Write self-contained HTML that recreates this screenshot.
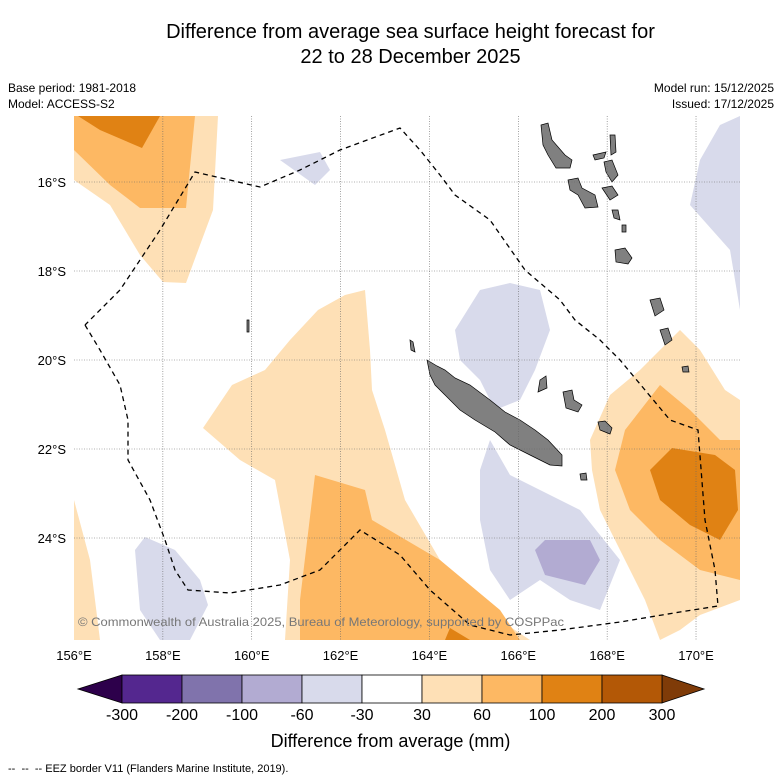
<!DOCTYPE html>
<html><head><meta charset="utf-8"><style>
body{margin:0;background:#fff;font-family:"Liberation Sans",sans-serif}
#wrap{position:relative;width:781px;height:781px;overflow:hidden}
.t{position:absolute;white-space:nowrap}
</style></head><body>
<div id="wrap">
<div class="t" style="left:0;width:821px;top:20px;text-align:center;font-size:20px;line-height:25px">Difference from average sea surface height forecast for<br>22 to 28 December 2025</div>
<div class="t" style="left:8px;top:80px;font-size:12px;line-height:16px">Base period: 1981-2018<br>Model: ACCESS-S2</div>
<div class="t" style="right:7px;top:80px;font-size:12px;line-height:16px;text-align:right">Model run: 15/12/2025<br>Issued: 17/12/2025</div>
<svg id="svg" width="781" height="781" style="position:absolute;left:0;top:0"></svg>
<div class="t" style="left:0;width:781px;top:731px;text-align:center;font-size:18px">Difference from average (mm)</div>
<div class="t" style="left:8px;top:763px;font-size:11px">--&nbsp; --&nbsp; -- EEZ border V11 (Flanders Marine Institute, 2019).</div>
</div>
<script>
const levels=[-300,-200,-100,-60,-30,30,60,100,200,300];
const colors=['#54278f','#8073ac','#b2abd2','#d8daeb','#ffffff','#fee0b6','#fdb863','#e08214','#b35806'];
const extColors=['#2d004b','#7f3b08'];
const lonTicks=[156,158,160,162,164,166,168,170];
const latTicks=[16,18,20,22,24];
const NS='http://www.w3.org/2000/svg';
const svg=document.getElementById('svg');
function el(t,a,p){const e=document.createElementNS(NS,t);for(const k in a)e.setAttribute(k,a[k]);(p||svg).appendChild(e);return e;}
const X=lon=>74+(lon-156)*44.43, Y=lat=>182+(lat-16)*44.5;
const g=el('g',{'clip-path':'url(#mc)'});
const cp=el('clipPath',{id:'mc'});el('rect',{x:74,y:116,width:666,height:524},cp);
function poly(pts,fill,name,stroke){const p=el('polygon',{points:pts,fill:fill,stroke:stroke||'none','stroke-width':stroke?0.6:0},g);

}
const C=colors;
poly('74,116 218,116 213,210 200,245 186,283 163,282 140,255 110,205 74,180',C[5],'anomaly-light-orange-nw');
poly('74,116 195,116 186,208 140,208 110,185 74,150',C[6],'anomaly-orange-nw');
poly('78,116 160,116 142,148 100,130',C[7],'anomaly-dark-orange-nw');
poly('203,428 232,385 265,370 290,340 318,310 345,295 365,290 370,350 372,390 385,430 405,500 440,560 500,620 530,640 285,640 290,560 275,480 240,460',C[5],'anomaly-light-orange-center');
poly('315,475 365,490 372,520 440,560 500,610 520,640 300,640 300,600',C[6],'anomaly-orange-center');
poly('445,640 450,628 470,640',C[7],'anomaly-dark-orange-center');
poly('592,470 590,440 610,395 640,370 680,330 700,350 725,390 740,400 740,600 700,615 680,630 660,640 645,600 620,550 600,510',C[5],'anomaly-light-orange-east');
poly('615,470 625,430 660,385 690,410 720,440 740,440 740,580 700,570 660,540 630,510',C[6],'anomaly-orange-east');
poly('650,470 672,448 715,455 735,470 738,510 720,540 690,525 660,500',C[7],'anomaly-dark-orange-east');
poly('74,500 90,560 100,640 74,640',C[5],'anomaly-light-orange-sw');
poly('280,160 320,152 330,170 315,185',C[3],'anomaly-purple-north');
poly('690,205 700,160 720,125 740,116 740,310 730,250',C[3],'anomaly-purple-ne');
poly('455,330 480,290 510,283 540,290 550,330 535,370 520,400 495,410 480,380 460,360',C[3],'anomaly-purple-center');
poly('480,470 490,440 510,475 540,490 580,510 620,560 600,610 570,600 540,580 510,600 490,570 480,520',C[3],'anomaly-purple-south');
poly('535,550 545,540 590,540 600,560 585,585 545,575',C[2],'anomaly-mid-purple-south');
poly('135,550 145,537 175,550 200,580 208,605 190,640 160,640 140,610',C[3],'anomaly-purple-sw');
// islands
const isl=['427,360 437,366 445,370 455,378 470,385 490,400 505,412 520,420 535,430 548,440 562,455 562,466 550,465 530,455 510,445 495,432 475,420 460,410 445,395 435,385 430,375',
'541,125 548,123 552,140 565,155 572,160 570,168 556,168 548,155 543,145','568,180 578,178 582,188 595,195 598,207 585,208 578,195 570,190',
'593,155 606,152 604,158 595,160','610,135 615,135 616,152 611,155','604,162 612,160 618,175 612,182 606,172','602,188 612,186 618,195 610,200',
'615,250 625,248 632,258 628,264 616,262','650,300 660,298 664,310 655,316','660,330 668,328 672,340 665,345','682,367 688,366 689,372 683,372',
'540,380 546,376 547,388 538,392','563,392 572,390 574,400 582,405 578,412 566,408','598,422 605,421 612,428 610,434 600,430','580,474 586,473 587,480 581,480',
'410,340 413,342 415,352 411,350','247,320 249,320 249,332 247,332','612,210 618,210 620,220 614,218','622,225 626,225 626,232 622,232'];
isl.forEach((p,i)=>{const e=el('polygon',{points:p,fill:'#808080',stroke:'#000','stroke-width':0.7},g);

});
// grid
lonTicks.forEach(l=>{if(l>156){const e=el('line',{x1:X(l),x2:X(l),y1:116,y2:640,stroke:'#666','stroke-width':0.6,'stroke-dasharray':'1,1.5'});}
const t=el('text',{x:X(l),y:660,'text-anchor':'middle','font-size':13,'font-family':'Liberation Sans'});t.textContent=l+'°E';});
latTicks.forEach(l=>{const e=el('line',{x1:74,x2:740,y1:Y(l),y2:Y(l),stroke:'#666','stroke-width':0.6,'stroke-dasharray':'1,1.5'});
const t=el('text',{x:66,y:Y(l)+5,'text-anchor':'end','font-size':13,'font-family':'Liberation Sans'});t.textContent=l+'°S';});
// EEZ
const eez=el('polyline',{points:'85,325 100,350 120,385 128,420 128,460 150,500 165,540 175,570 188,590 230,593 280,585 320,570 360,530 400,555 430,590 470,625 510,635 560,630 620,622 680,612 718,606 715,570 705,520 698,430 670,420 645,390 620,360 600,340 575,320 560,300 525,270 490,220 455,195 440,175 420,150 400,128 340,150 300,170 260,187 195,172 160,230 120,290 85,325',fill:'none',stroke:'#000','stroke-width':1.3,'stroke-dasharray':'5,4'});

const cr=el('text',{x:78,y:626,'font-size':12,fill:'#777','font-family':'Liberation Sans',textLength:486,lengthAdjust:'spacingAndGlyphs'});cr.textContent='© Commonwealth of Australia 2025, Bureau of Meteorology, supported by COSPPac';

// colorbar
const cbx0=122,cbw=60,cby=675,cbh=28;
const cx=i=>cbx0+i*cbw;
const lt=el('polygon',{points:`${cx(0)},${cby} 78,${cby+cbh/2} ${cx(0)},${cby+cbh}`,fill:extColors[0],stroke:'#000','stroke-width':0.8});
const rt=el('polygon',{points:`${cx(9)},${cby} 704,${cby+cbh/2} ${cx(9)},${cby+cbh}`,fill:extColors[1],stroke:'#000','stroke-width':0.8});
colors.forEach((c,i)=>{const r=el('rect',{x:cx(i),y:cby,width:cbw,height:cbh,fill:c,stroke:'#000','stroke-width':0.8});});
levels.forEach((v,i)=>{const t=el('text',{x:cx(i),y:720,'text-anchor':'middle','font-size':16,'font-family':'Liberation Sans'});t.textContent=v;});
</script>
</body></html>
